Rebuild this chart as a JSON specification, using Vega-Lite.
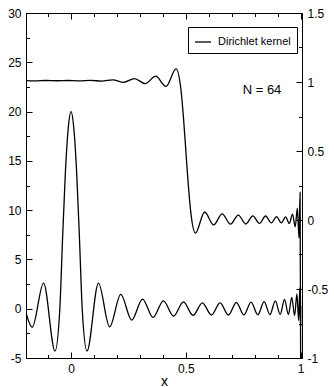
{
  "$schema": "https://vega.github.io/schema/vega-lite/v6.json",
  "width": 276,
  "height": 345,
  "autosize": {"type": "none"},
  "padding": {"left": 26, "top": 13, "right": 32, "bottom": 29},
  "background": "white",
  "config": {
    "view": {"stroke": "black", "strokeWidth": 1},
    "font": "Liberation Sans",
    "axis": {
      "labelFont": "Liberation Sans",
      "labelFontSize": 12,
      "labelColor": "black",
      "domainColor": "black",
      "domainWidth": 1,
      "tickColor": "black",
      "tickWidth": 1,
      "grid": false,
      "labelOverlap": false,
      "labelFlush": false,
      "titleFont": "Liberation Sans",
      "titleFontWeight": "normal",
      "titleFontSize": 14,
      "titleColor": "black"
    }
  },
  "datasets": {
    "kernel": [
      {"x": -0.196, "y": -0.4},
      {"x": -0.169, "y": -1.88},
      {"x": -0.1195, "y": 2.6},
      {"x": -0.0696, "y": -4.3},
      {"x": -0.0487, "y": 0},
      {"x": -0.037, "y": 7.0},
      {"x": -0.025, "y": 13.6},
      {"x": -0.0125, "y": 18.2},
      {"x": 0, "y": 20},
      {"x": 0.0125, "y": 18.2},
      {"x": 0.025, "y": 13.6},
      {"x": 0.037, "y": 7.0},
      {"x": 0.0487, "y": 0},
      {"x": 0.0696, "y": -4.3},
      {"x": 0.1195, "y": 2.6},
      {"x": 0.1682, "y": -1.85},
      {"x": 0.2165, "y": 1.45},
      {"x": 0.2642, "y": -1.15},
      {"x": 0.3113, "y": 0.98},
      {"x": 0.3572, "y": -0.88},
      {"x": 0.4023, "y": 0.8},
      {"x": 0.4464, "y": -0.74},
      {"x": 0.4894, "y": 0.7},
      {"x": 0.5313, "y": -0.68},
      {"x": 0.5718, "y": 0.6},
      {"x": 0.6112, "y": -0.64},
      {"x": 0.649, "y": 0.6},
      {"x": 0.6853, "y": -0.64},
      {"x": 0.7199, "y": 0.63},
      {"x": 0.7529, "y": -0.63},
      {"x": 0.784, "y": 0.66},
      {"x": 0.8133, "y": -0.62},
      {"x": 0.8407, "y": 0.72},
      {"x": 0.866, "y": -0.6},
      {"x": 0.8894, "y": 0.8},
      {"x": 0.9106, "y": -0.58},
      {"x": 0.9296, "y": 0.95},
      {"x": 0.9465, "y": -0.6},
      {"x": 0.9611, "y": 1.15},
      {"x": 0.9734, "y": -0.7},
      {"x": 0.9834, "y": 1.5},
      {"x": 0.9911, "y": -1.2},
      {"x": 0.9964, "y": 2.1},
      {"x": 0.9993, "y": -1.8},
      {"x": 1.0, "y": 0.3}
    ],
    "step": [
      {"x": -0.196, "y": 1.01},
      {"x": -0.1574, "y": 1.008},
      {"x": -0.1093, "y": 1.011},
      {"x": -0.0608, "y": 1.009},
      {"x": -0.0122, "y": 1.011},
      {"x": 0.0365, "y": 1.008},
      {"x": 0.0851, "y": 1.012},
      {"x": 0.1335, "y": 1.006},
      {"x": 0.1817, "y": 1.016},
      {"x": 0.2293, "y": 0.998},
      {"x": 0.2764, "y": 1.025},
      {"x": 0.3229, "y": 0.988},
      {"x": 0.3686, "y": 1.042},
      {"x": 0.4134, "y": 0.968},
      {"x": 0.4573, "y": 1.095},
      {"x": 0.4789, "y": 0.94},
      {"x": 0.4894, "y": 0.745},
      {"x": 0.5, "y": 0.5},
      {"x": 0.5105, "y": 0.258},
      {"x": 0.5209, "y": 0.064},
      {"x": 0.5416, "y": -0.095},
      {"x": 0.5819, "y": 0.058},
      {"x": 0.6208, "y": -0.036},
      {"x": 0.6582, "y": 0.045},
      {"x": 0.6941, "y": -0.03},
      {"x": 0.7283, "y": 0.036},
      {"x": 0.7608, "y": -0.029},
      {"x": 0.7915, "y": 0.03},
      {"x": 0.8203, "y": -0.025},
      {"x": 0.8472, "y": 0.029},
      {"x": 0.8721, "y": -0.021},
      {"x": 0.8949, "y": 0.025},
      {"x": 0.9155, "y": -0.021},
      {"x": 0.934, "y": 0.022},
      {"x": 0.9503, "y": -0.025},
      {"x": 0.9643, "y": 0.043},
      {"x": 0.9761, "y": -0.049},
      {"x": 0.9855, "y": 0.085},
      {"x": 0.9926, "y": -0.13},
      {"x": 0.9973, "y": 0.2},
      {"x": 0.9997, "y": -1.0}
    ],
    "label": [
      {"x": 0.8315, "y": 21.8, "t": "N = 64"}
    ]
  },
  "layer": [
    {
      "data": {"name": "kernel"},
      "mark": {"type": "line", "interpolate": "monotone", "strokeWidth": 1.3, "clip": true},
      "encoding": {
        "x": {
          "field": "x", "type": "quantitative",
          "scale": {"domain": [-0.196, 1.0056], "nice": false, "zero": false},
          "axis": {
            "orient": "bottom",
            "title": "x",
            "titleBaseline": "alphabetic",
            "titleY": 27,
            "values": [-0.1, 0, 0.1, 0.2, 0.3, 0.4, 0.5, 0.6, 0.7, 0.8, 0.9, 1],
            "labelExpr": "datum.value == 0 || datum.value == 0.5 || datum.value == 1 ? '' + datum.value : ''",
            "tickSize": {"condition": {"test": "datum.value == 0 || datum.value == 0.5 || datum.value == 1", "value": -6}, "value": -3.5},
            "labelPadding": 11
          }
        },
        "y": {
          "field": "y", "type": "quantitative",
          "scale": {"domain": [-5, 30], "nice": false, "zero": false},
          "axis": {
            "orient": "left",
            "title": null,
            "values": [-5, -2.5, 0, 2.5, 5, 7.5, 10, 12.5, 15, 17.5, 20, 22.5, 25, 27.5, 30],
            "labelExpr": "datum.value % 5 == 0 ? '' + datum.value : ''",
            "tickSize": {"condition": {"test": "datum.value % 5 == 0", "value": -6}, "value": -3.5},
            "labelPadding": 11
          }
        },
        "color": {
          "datum": "Dirichlet kernel", "type": "nominal",
          "scale": {"range": ["black"]},
          "legend": {
            "orient": "none", "legendX": 162, "legendY": 14, "title": null,
            "strokeColor": "black", "fillColor": "white", "padding": 6,
            "symbolType": "stroke", "symbolSize": 256, "symbolStrokeWidth": 1.3, "symbolStrokeColor": "black",
            "labelFont": "Liberation Sans", "labelFontSize": 11, "labelColor": "black", "labelOffset": 6
          }
        }
      }
    },
    {
      "data": {"name": "step"},
      "mark": {"type": "line", "interpolate": "monotone", "strokeWidth": 1.3, "color": "black", "clip": true},
      "encoding": {
        "x": {
          "field": "x", "type": "quantitative",
          "scale": {"domain": [-0.196, 1.0056], "nice": false, "zero": false},
          "axis": {
            "orient": "top",
            "title": null,
            "labels": false,
            "values": [-0.1, 0, 0.1, 0.2, 0.3, 0.4, 0.5, 0.6, 0.7, 0.8, 0.9, 1],
            "tickSize": {"condition": {"test": "datum.value == 0 || datum.value == 0.5 || datum.value == 1", "value": -6}, "value": -3.5}
          }
        },
        "y": {
          "field": "y", "type": "quantitative",
          "scale": {"domain": [-1, 1.5], "nice": false, "zero": false},
          "axis": {
            "orient": "right",
            "title": null,
            "values": [-1, -0.75, -0.5, -0.25, 0, 0.25, 0.5, 0.75, 1, 1.25, 1.5],
            "labelExpr": "(datum.value * 2) % 1 == 0 ? '' + datum.value : ''",
            "tickSize": {"condition": {"test": "(datum.value * 2) % 1 == 0", "value": -6}, "value": -3.5},
            "labelPadding": 11
          }
        }
      }
    },
    {
      "data": {"name": "label"},
      "mark": {"type": "text", "align": "center", "baseline": "alphabetic", "fontSize": 13, "font": "Liberation Sans", "color": "black"},
      "encoding": {
        "x": {"field": "x", "type": "quantitative", "scale": {"domain": [-0.196, 1.0056], "nice": false, "zero": false}, "axis": null},
        "y": {"field": "y", "type": "quantitative", "scale": {"domain": [-5, 30], "nice": false, "zero": false}, "axis": null},
        "text": {"field": "t"}
      }
    }
  ],
  "resolve": {"scale": {"y": "independent"}, "axis": {"x": "independent", "y": "independent"}}
}
